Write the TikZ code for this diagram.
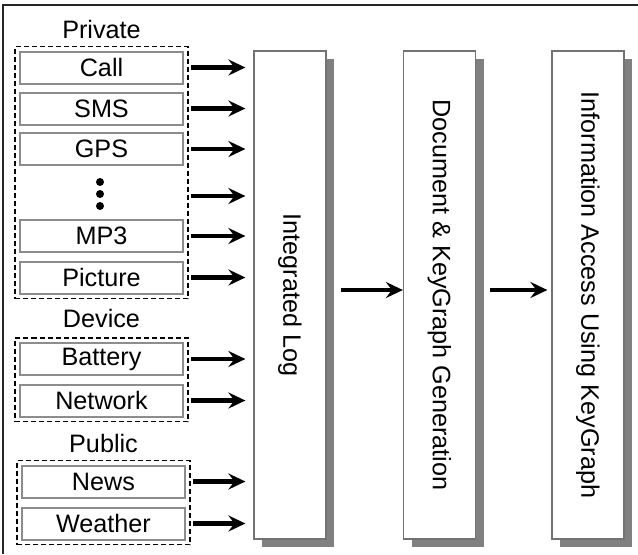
\documentclass[tikz,border=0pt]{standalone}
\usepackage{fontspec}
\setmainfont{Liberation Sans}
\usetikzlibrary{arrows.meta, positioning, fit, shadows}

\begin{document}
\begin{tikzpicture}[x=0.5pt, y=-0.5pt, >={Stealth[length=8.5pt, width=8pt, inset=3pt]},
  font=\fontsize{12.6}{15}\selectfont,
  src/.style={rectangle, draw=black!45, line width=1pt, fill=white,
    minimum width=81.5pt, minimum height=16pt, inner sep=0pt},
  stage/.style={rectangle, draw=black!55, line width=0.6pt, fill=white,
    minimum width=36pt, minimum height=244pt, inner sep=0pt,
    general shadow={fill=black!50, shadow xshift=4pt, shadow yshift=-4pt}},
  group/.style={draw, line width=0.8pt, dash pattern=on 2.5pt off 1.5pt, inner sep=2pt},
  flow/.style={->, line width=2.1pt, shorten >=4pt, shorten <=1pt}]
  \useasboundingbox (0,0) rectangle (638,554);
  \draw[line width=0.8pt, black!85] (3,554) -- (3,5) -- (638,5);

  % sources
  \node[src] (call)    at (101.5,67.5)  {Call};
  \node[src] (sms)     at (101.5,108.5) {SMS};
  \node[src] (gps)     at (101.5,149)   {GPS};
  \coordinate (dots) at (100,196);
  \fill (100,182) circle (2pt) (100,194) circle (2pt) (100,206) circle (2pt);
  \node[src] (mp3)     at (101.5,236)   {MP3};
  \node[src] (picture) at (101.5,277.5) {Picture};
  \node[src] (battery) at (101.5,359)   {Battery};
  \node[src] (network) at (101.5,400.5) {Network};
  \node[src] (news)    at (103.5,481.5) {News};
  \node[src] (weather) at (103.5,523.5) {Weather};

  \node[group, fit=(call)(picture), label={above:Private}] (private) {};
  \node[group, fit=(battery)(network), label={[yshift=1pt]above:Device}] (device) {};
  \node[group, fit=(news)(weather), label={above:Public}] (public) {};

  % stages
  \node[stage] (log)  at (290,295)   {\rotatebox{-90}{Integrated Log}};
  \node[stage] (doc)  at (439.5,295) {\rotatebox{-90}{Document \& KeyGraph Generation}};
  \node[stage] (info) at (588,295)   {\rotatebox{-90}{Information Access Using KeyGraph}};

  \draw[flow] (call.east -| private.east)    -- (call.east -| log.west);
  \draw[flow] (sms.east -| private.east)     -- (sms.east -| log.west);
  \draw[flow] (gps.east -| private.east)     -- (gps.east -| log.west);
  \draw[flow] (dots -| private.east)         -- (dots -| log.west);
  \draw[flow] (mp3.east -| private.east)     -- (mp3.east -| log.west);
  \draw[flow] (picture.east -| private.east) -- (picture.east -| log.west);
  \draw[flow] (battery.east -| device.east)  -- (battery.east -| log.west);
  \draw[flow] (network.east -| device.east)  -- (network.east -| log.west);
  \draw[flow] (news.east -| public.east)     -- (news.east -| log.west);
  \draw[flow] (weather.east -| public.east)  -- (weather.east -| log.west);

  \coordinate (mid) at (0,290);
  \draw[flow, shorten <=7pt, shorten >=0pt] (log.east |- mid) -- (doc.west |- mid);
  \draw[flow, shorten <=7pt, shorten >=2pt] (doc.east |- mid) -- (info.west |- mid);
\end{tikzpicture}
\end{document}
